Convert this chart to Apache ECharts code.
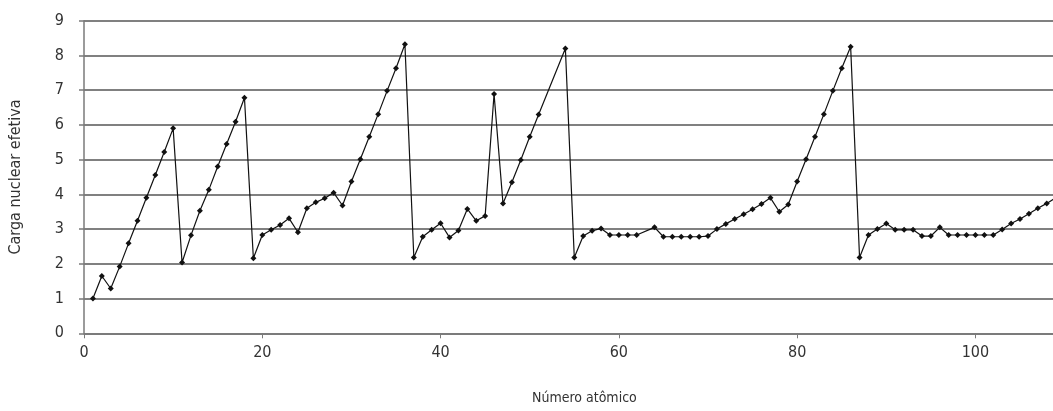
<!DOCTYPE html>
<html>
<head>
<meta charset="utf-8">
<script src="https://cdn.jsdelivr.net/npm/echarts@6/dist/echarts.min.js"></script>
<style>
html, body { margin: 0; padding: 0; background: #fff; }
#grafico { width: 1053px; height: 411px; }
</style>
</head>
<body>
<div id="grafico"></div>
<script>
// numero atomico (Z)
var numeroAtomico = [1, 2, 3, 4, 5, 6, 7, 8, 9, 10,
	11, 12, 13, 14, 15, 16, 17, 18, 19, 20,
	21, 22, 23, 24, 25, 26, 27, 28, 29, 30,
	31, 32, 33, 34, 35, 36, 37, 38, 39, 40,
	41, 42, 43, 44, 45, 46, 47, 48, 49, 50,
	51, 52, 53, 54, 55, 56, 57, 58, 59, 60,
	61, 62, 63, 64, 65, 66, 67, 68, 69, 70,
	71, 72, 73, 74, 75, 76, 77, 78, 79, 80,
	81, 82, 83, 84, 85, 86, 87, 88, 89, 90,
	91, 92, 93, 94, 95, 96, 97, 98, 99, 100,
	101, 102, 103, 104, 105, 106, 107, 108, 109]
// carga nuclear efetiva (null = sem marcador)
var cargaEfetiva = [1.00, 1.65, 1.29, 1.92, 2.59, 3.24, 3.90, 4.56, 5.22, 5.90,
	2.04, 2.82, 3.53, 4.13, 4.80, 5.45, 6.09, 6.78, 2.16, 2.83,
	2.98, 3.12, 3.31, 2.91, 3.60, 3.77, 3.89, 4.05, 3.68, 4.37,
	5.01, 5.66, 6.31, 6.98, 7.63, 8.32, 2.18, 2.78, 2.98, 3.17,
	2.76, 2.96, 3.58, 3.24, 3.38, 6.89, 3.74, 4.35, 4.99, 5.66,
	6.30, null, null, 8.20, 2.18, 2.80, 2.95, 3.02, 2.83, 2.83,
	2.83, 2.83, null, 3.05, 2.78, 2.78, 2.78, 2.78, 2.78, 2.80,
	3.00, 3.15, 3.29, 3.43, 3.57, 3.72, 3.90, 3.50, 3.71, 4.37,
	5.01, 5.66, 6.31, 6.98, 7.63, 8.25, 2.18, 2.83, 3.00, 3.16,
	2.98, 2.98, 2.98, 2.80, 2.80, 3.05, 2.83, 2.83, 2.83, 2.83,
	2.83, 2.83, 2.99, 3.16, 3.29, 3.44, 3.60, 3.74, 3.90]

var fonte = "'Liberation Sans Narrow', 'DejaVu Sans Condensed', 'Arial Narrow', sans-serif"

var pontos = []
numeroAtomico.forEach(function(z, i) {
	pontos.push([z, cargaEfetiva[i]])
})

var myChart = echarts.init(document.getElementById('grafico'))
var option = {
	animation: false,
	backgroundColor: '#fff',
	grid: {
		left: 83.5,
		right: 0, // o grafico original esta cortado na direita
		top: 20.7,
		bottom: 77.7,
		containLabel: false
	},
	xAxis: {
		type: 'value',
		min: 0,
		max: 108.7,
		interval: 20,
		axisLine: { show: true, lineStyle: { color: '#7a7a7a', width: 1.5 } },
		axisTick: { show: true, length: 5, lineStyle: { color: '#7a7a7a' } },
		axisLabel: {
			margin: 12,
			color: '#333',
			fontFamily: fonte,
			fontSize: 16,
			showMaxLabel: false
		},
		splitLine: { show: false }
	},
	yAxis: {
		type: 'value',
		min: 0,
		max: 9,
		interval: 1,
		name: 'Carga nuclear efetiva',
		nameLocation: 'middle',
		nameGap: 60,
		nameTextStyle: { color: '#333', fontFamily: fonte, fontSize: 16 },
		axisLine: { show: true, lineStyle: { color: '#7a7a7a', width: 1.5 } },
		axisTick: { show: true, length: 5, lineStyle: { color: '#7a7a7a', width: 1.5 } },
		axisLabel: {
			margin: 20,
			color: '#333',
			fontFamily: fonte,
			fontSize: 16
		},
		splitLine: { show: true, lineStyle: { color: '#808080', width: 2 } }
	},
	graphic: [{
		type: 'text',
		left: 532,
		top: 391,
		style: {
			text: 'Número atômico',
			fill: '#333',
			font: "14px " + fonte
		}
	}],
	series: [{
		type: 'line',
		data: pontos,
		connectNulls: true,
		symbol: 'diamond',
		symbolSize: 6,
		showAllSymbol: true,
		lineStyle: { color: '#111', width: 1.2 },
		itemStyle: { color: '#111' }
	}]
}
myChart.setOption(option)
</script>
</body>
</html>
